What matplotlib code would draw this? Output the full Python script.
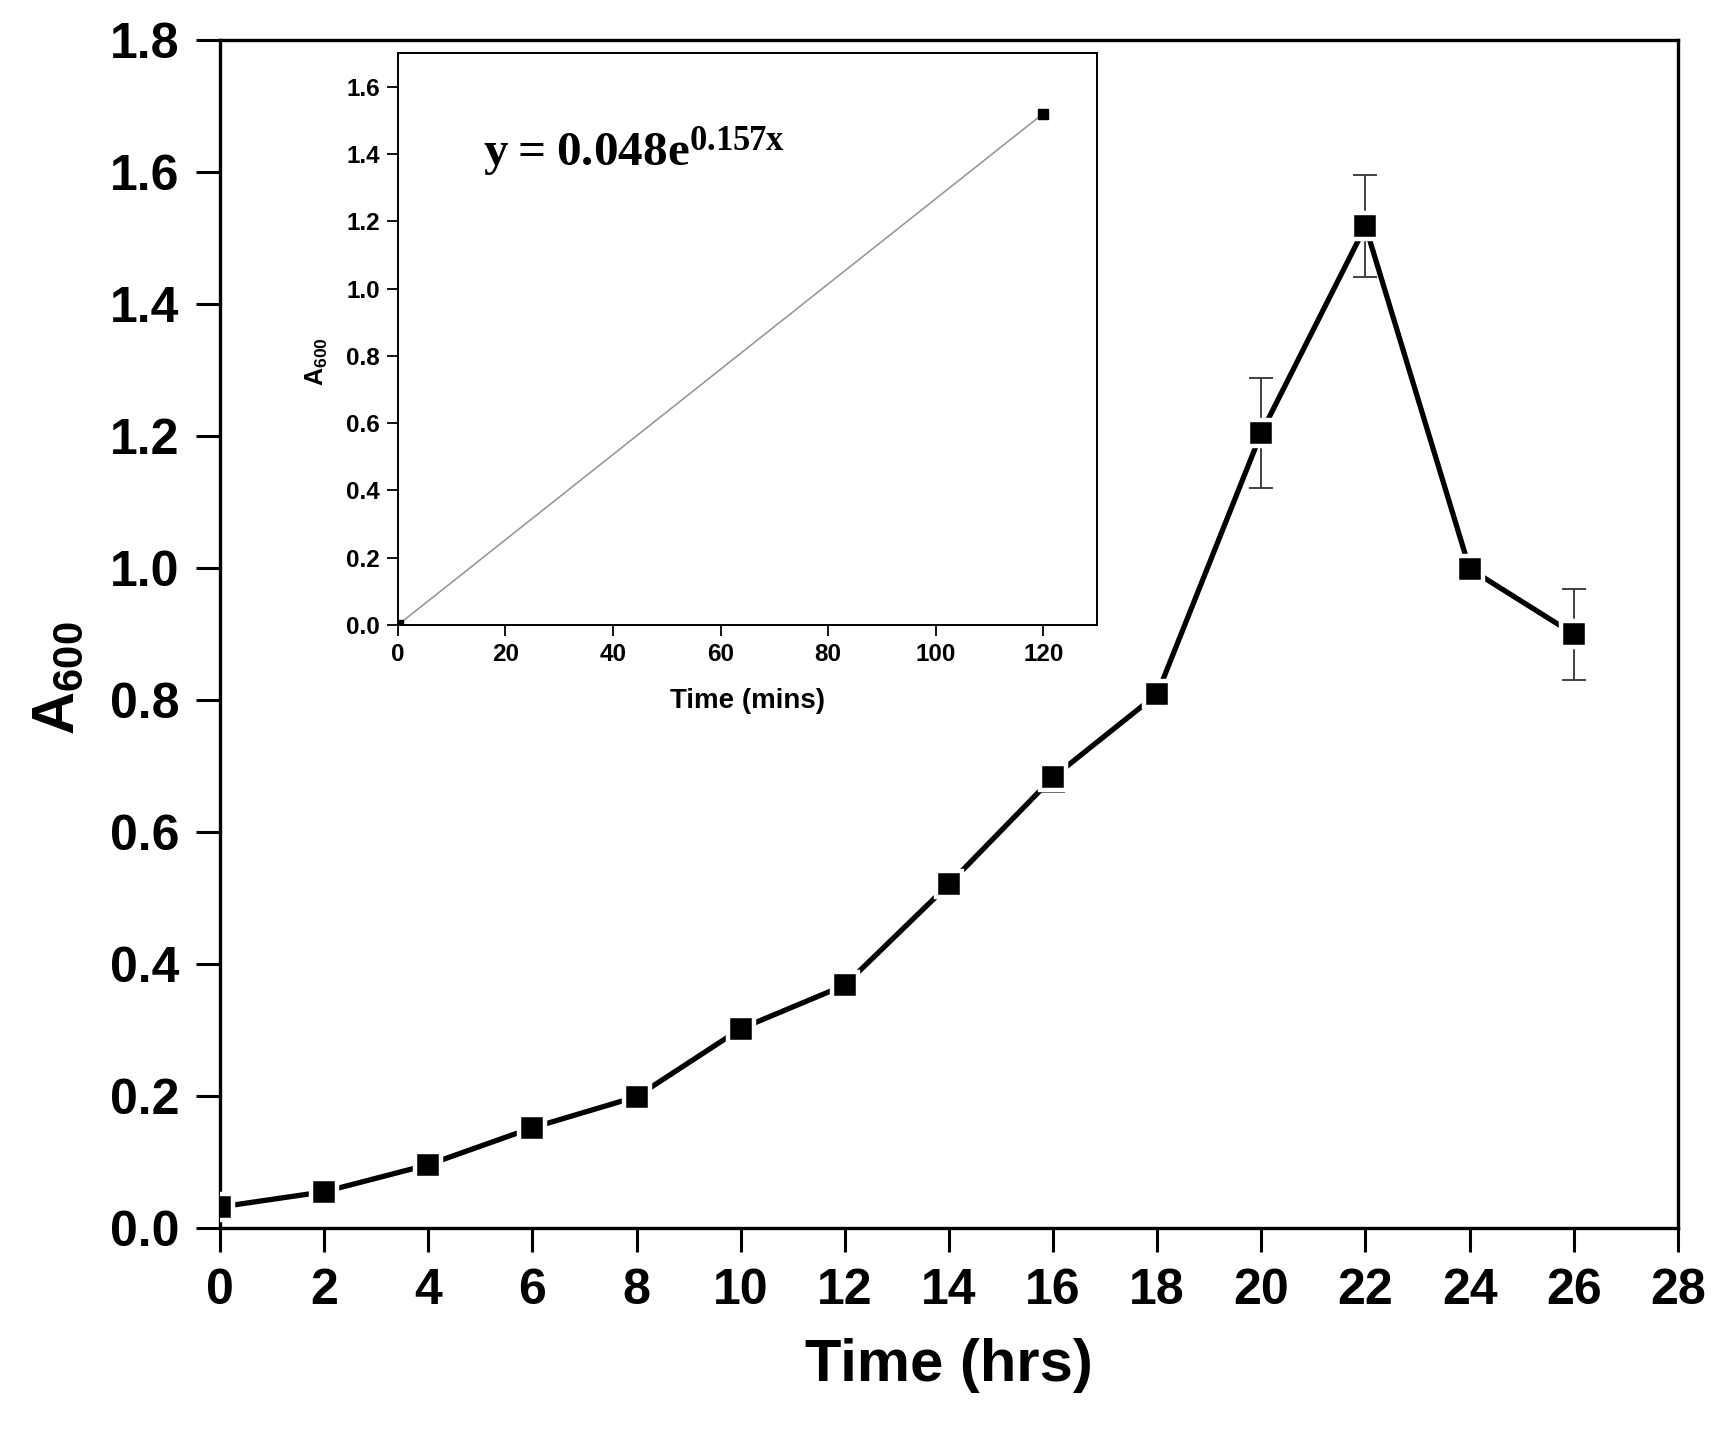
import matplotlib
matplotlib.use("Agg")
import matplotlib.pyplot as plt

# growth curve, A600 vs time (hrs)
hours = [0, 2, 4, 6, 8, 10, 12, 14, 16, 18, 20, 22, 24, 26]
a600 = [0.032, 0.055, 0.096, 0.152, 0.199, 0.302, 0.368, 0.521, 0.683, 0.809, 1.205, 1.518, 0.999, 0.900]
a600_err = [0.004, 0.004, 0.004, 0.005, 0.005, 0.006, 0.006, 0.012, 0.022, 0.008, 0.083, 0.077, 0.010, 0.069]

# inset: exponential phase, time in mins
mins = [0, 120]
a600_inset = [0.0, 1.52]

xticks_main = list(range(0, 29, 2))
yticks_main = [0.0, 0.2, 0.4, 0.6, 0.8, 1.0, 1.2, 1.4, 1.6, 1.8]
xticks_inset = [0, 20, 40, 60, 80, 100, 120]
yticks_inset = [0.0, 0.2, 0.4, 0.6, 0.8, 1.0, 1.2, 1.4, 1.6]

plt.rcParams['font.family'] = ['Liberation Sans', 'DejaVu Sans']
plt.rcParams['font.weight'] = 'bold'
plt.rcParams['mathtext.fontset'] = 'custom'
plt.rcParams['mathtext.bf'] = 'Liberation Serif:bold'
plt.rcParams['mathtext.sf'] = 'Liberation Sans:bold'
plt.rcParams['mathtext.rm'] = 'Liberation Sans:bold'

fig = plt.figure(figsize=(17.13, 14.36), dpi=100)
ax = fig.add_axes([0.1284, 0.1448, 0.8511, 0.8273])

ax.errorbar(hours, a600, yerr=a600_err, fmt='none', ecolor='#333333',
            elinewidth=1.3, capsize=8.5, capthick=1.3, zorder=2)
ax.plot(hours, a600, color='black', linewidth=3.8, zorder=3)
ax.plot(hours, a600, linestyle='none', marker='s', markersize=19,
        markerfacecolor='black', markeredgecolor='white', markeredgewidth=3.2, zorder=4)

ax.set_xlim(0, 28)
ax.set_ylim(0, 1.8)
ax.set_xticks(xticks_main)
ax.set_yticks(yticks_main)
ax.set_yticklabels([f"{v:.1f}" for v in yticks_main])
ax.tick_params(direction='out', length=17, width=2.2, labelsize=36, pad=12,
               top=False, right=False)
for sp in ax.spines.values():
    sp.set_linewidth(2.4)

ax.set_xlabel("Time (hrs)", fontsize=43, fontweight='bold', labelpad=17)
ax.set_ylabel(r"$\mathsf{A}_{\mathsf{600}}$", fontsize=43)
ax.yaxis.set_label_coords(-0.092, 0.463)

# inset
ins = fig.add_axes([0.2323, 0.5648, 0.4081, 0.3983])
ins.plot(mins, a600_inset, color='#999999', linewidth=1.2, zorder=2)
ins.plot(mins, a600_inset, linestyle='none', marker='s', markersize=6.5,
         color='black', zorder=3)
ins.set_xlim(0, 130)
ins.set_ylim(0, 1.7)
ins.set_xticks(xticks_inset)
ins.set_yticks(yticks_inset)
ins.set_yticklabels([f"{v:.1f}" for v in yticks_inset])
ins.tick_params(direction='out', length=8, width=1.3, labelsize=17.5, pad=5,
                top=False, right=False)
for sp in ins.spines.values():
    sp.set_linewidth(1.4)
ins.set_xlabel("Time (mins)", fontsize=20, fontweight='bold', labelpad=16)
ins.set_ylabel(r"$\mathsf{A}_{\mathsf{600}}$", fontsize=18)
ins.yaxis.set_label_coords(-0.097, 0.46)

ins.text(15.8, 1.367, r"$\mathbf{y = 0.048e^{0.157x}}$", fontsize=35.5,
         ha='left', va='baseline')

fig.savefig("out.png", dpi=100, facecolor='white')
